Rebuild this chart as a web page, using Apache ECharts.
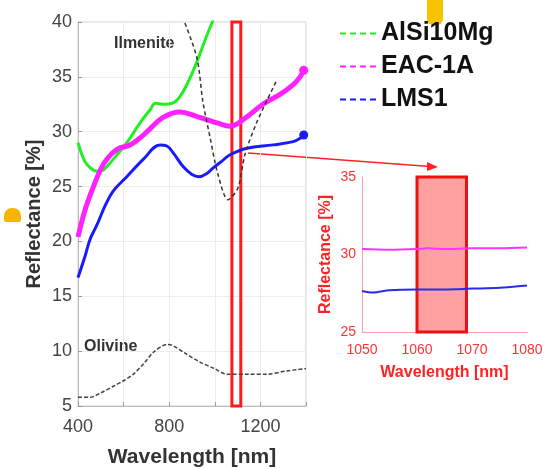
<!DOCTYPE html>
<html>
<head>
<meta charset="utf-8">
<script src="https://cdn.jsdelivr.net/npm/echarts@6/dist/echarts.min.js"></script>
<style>
  html, body { margin: 0; padding: 0; background: #fff; }
  #chart { width: 548px; height: 469px; }
</style>
</head>
<body>
<div id="chart"></div>
<script>
// main spectra, [wavelength nm, reflectance %]
const alsi10mg = [[400,29.0],[430,27.3],[460,26.6],[485,26.4],[510,26.5],[555,27.5],[614,29.0],[672,30.8],[716,32.0],[740,32.6],[780,32.5],[815,32.6],[847,33.2],[880,34.4],[922,36.4],[960,38.5],[995,40.3]];
const eac1a = [[400,20.4],[430,22.8],[466,24.9],[500,26.6],[527,27.5],[571,28.4],[628,28.8],[670,29.4],[703,30.0],[773,31.3],[847,31.8],[920,31.4],[965,31.1],[1010,30.8],[1067,30.5],[1124,31.1],[1211,32.5],[1286,33.4],[1344,34.3],[1374,35.0],[1390,35.6]];
const lms1 = [[400,16.7],[430,18.6],[453,20.2],[483,21.5],[520,23.3],[555,24.6],[614,25.9],[687,27.5],[760,28.8],[790,28.7],[820,28.0],[862,26.8],[900,26.1],[930,25.9],[965,26.2],[993,26.7],[1030,27.3],[1067,27.9],[1141,28.5],[1256,28.8],[1344,29.1],[1375,29.4],[1390,29.7]];
const ilmenite = [[869,39.9],[922,36.7],[948,32.7],[979,29.5],[1014,26.1],[1058,23.8],[1102,24.9],[1132,27.9],[1185,30.9],[1272,34.7]];
const olivine = [[400,5.8],[453,5.8],[500,6.2],[555,6.8],[600,7.3],[643,7.9],[690,8.9],[731,9.9],[790,10.6],[816,10.5],[870,9.8],[935,9.0],[1000,8.4],[1053,7.9],[1150,7.9],[1229,7.9],[1316,8.2],[1400,8.4]];

// zoomed window 1050-1080 nm
const eac1aZoom = [[1050,30.35],[1055,30.3],[1060,30.35],[1062,30.4],[1065,30.35],[1070,30.4],[1075,30.4],[1080,30.45]];
const lms1Zoom = [[1050,27.65],[1052,27.55],[1055,27.7],[1060,27.75],[1065,27.75],[1070,27.8],[1075,27.85],[1080,28.0]];

// highlighted bands
const bandMain = [1075, 1114];
const bandZoom = [1060, 1069];

const legendNames = ['AlSi10Mg', 'EAC-1A', 'LMS1'];
const font = 'Liberation Sans, Arial, sans-serif';
// four short dashes, used as legend sample
const dashIcon = 'path://M0,0H6V2H0Z M10,0H16V2H10Z M20,0H26V2H20Z M30,0H36V2H30Z';

// put a dot on the last point of a curve
function withEndDot(arr) {
    return arr.map((p, i) => i === arr.length - 1 ? { value: p, symbol: 'circle', symbolSize: 9 } : p);
}

const chart = echarts.init(document.getElementById('chart'));

const option = {
    animation: false,
    textStyle: { fontFamily: font },
    legend: {
        data: legendNames.map(n => ({ name: n, icon: dashIcon })),
        orient: 'vertical',
        left: 335,
        top: 16,
        itemWidth: 36,
        itemHeight: 2,
        itemGap: 8,
        textStyle: { fontSize: 25, fontWeight: 'bold', color: '#111', fontFamily: font }
    },
    grid: [
        { left: 78, top: 22, width: 228, height: 384, show: true, borderColor: '#cfcfcf', borderWidth: 1, outerBoundsMode: 'none' },
        { left: 362, top: 177, width: 165, height: 155, outerBoundsMode: 'none' }
    ],
    xAxis: [
        {
            gridIndex: 0, type: 'value', min: 400, max: 1400, interval: 200,
            name: 'Wavelength [nm]', nameLocation: 'middle', nameGap: 41,
            nameTextStyle: { fontSize: 21, fontWeight: 'bold', color: '#333' },
            axisLine: { lineStyle: { color: '#bbb' } },
            axisTick: { inside: true, length: 4, lineStyle: { color: '#999' } },
            axisLabel: { fontSize: 18, color: '#444', margin: 12, formatter: v => (v % 400 === 0 ? String(v) : '') },
            splitLine: { lineStyle: { color: '#ececec' } }
        },
        {
            gridIndex: 1, type: 'value', min: 1050, max: 1080, interval: 10,
            name: 'Wavelength [nm]', nameLocation: 'middle', nameGap: 33,
            nameTextStyle: { fontSize: 16, fontWeight: 'bold', color: '#f22' },
            axisLine: { lineStyle: { color: '#f9a0a0' } },
            axisTick: { show: false },
            axisLabel: { fontSize: 14, color: '#f33', margin: 11, formatter: v => String(v) },
            splitLine: { show: false }
        }
    ],
    yAxis: [
        {
            gridIndex: 0, type: 'value', min: 5, max: 40, interval: 5,
            name: 'Reflectance [%]', nameLocation: 'middle', nameGap: 34,
            nameTextStyle: { fontSize: 20, fontWeight: 'bold', color: '#333' },
            axisLine: { show: true, lineStyle: { color: '#bbb' } },
            axisTick: { show: true, inside: true, length: 4, lineStyle: { color: '#999' } },
            axisLabel: { fontSize: 18, color: '#444', margin: 6 },
            splitLine: { lineStyle: { color: '#ececec' } }
        },
        {
            gridIndex: 1, type: 'value', min: 25, max: 35, interval: 5,
            name: 'Reflectance [%]', nameLocation: 'middle', nameGap: 28,
            nameTextStyle: { fontSize: 16, fontWeight: 'bold', color: '#f22' },
            axisLine: { show: true, lineStyle: { color: '#f9a0a0' } },
            axisTick: { show: false },
            axisLabel: { fontSize: 14, color: '#f33', margin: 6 },
            splitLine: { show: false }
        }
    ],
    series: [
        {
            name: 'AlSi10Mg', type: 'line', xAxisIndex: 0, yAxisIndex: 0,
            data: alsi10mg, smooth: 0.4, symbol: 'none', color: '#22ee22',
            lineStyle: { width: 3 }
        },
        {
            name: 'LMS1', type: 'line', xAxisIndex: 0, yAxisIndex: 0,
            data: withEndDot(lms1), smooth: 0.4, symbol: 'none', color: '#1a1aff',
            lineStyle: { width: 3 }
        },
        {
            name: 'EAC-1A', type: 'line', xAxisIndex: 0, yAxisIndex: 0,
            data: withEndDot(eac1a), smooth: 0.4, symbol: 'none', color: '#ff22ff',
            lineStyle: { width: 5 }
        },
        {
            name: 'Ilmenite', type: 'line', xAxisIndex: 0, yAxisIndex: 0,
            data: ilmenite, smooth: 0.3, symbol: 'none', color: '#333',
            lineStyle: { width: 1.5, type: [4, 3] }
        },
        {
            name: 'Olivine', type: 'line', xAxisIndex: 0, yAxisIndex: 0,
            data: olivine, smooth: 0.3, symbol: 'none', color: '#444',
            lineStyle: { width: 1.5, type: [4, 2] },
            markArea: {
                silent: true,
                itemStyle: { color: 'rgba(255,255,255,0)', borderColor: '#ff1a1a', borderWidth: 3 },
                data: [[{ coord: [bandMain[0], 5] }, { coord: [bandMain[1], 40] }]]
            }
        },
        {
            name: 'EAC-1A zoom', type: 'line', xAxisIndex: 1, yAxisIndex: 1,
            data: eac1aZoom, smooth: 0.3, symbol: 'none', color: '#ff33ff',
            lineStyle: { width: 2 }
        },
        {
            name: 'LMS1 zoom', type: 'line', xAxisIndex: 1, yAxisIndex: 1,
            data: lms1Zoom, smooth: 0.3, symbol: 'none', color: '#2a2aee',
            lineStyle: { width: 2 },
            markArea: {
                silent: true,
                itemStyle: { color: 'rgba(255,0,0,0.37)', borderColor: '#ee1111', borderWidth: 3 },
                data: [[{ coord: [bandZoom[0], 25] }, { coord: [bandZoom[1], 35] }]]
            }
        }
    ],
    graphic: [
        // labels of the mineral curves
        { type: 'text', left: 114, top: 36, style: { text: 'Ilmenite', font: 'bold 16px ' + font, fill: '#333' } },
        { type: 'text', left: 84, top: 339, style: { text: 'Olivine', font: 'bold 16px ' + font, fill: '#333' } },
        // arrow from main band to zoom window
        { type: 'line', shape: { x1: 248, y1: 153, x2: 430, y2: 166.5 }, style: { stroke: '#ff2222', lineWidth: 1.5 } },
        { type: 'polygon', shape: { points: [[438, 167], [427, 162], [427, 171]] }, style: { fill: '#ff2222' } },
        // yellow marks on the scan
        { type: 'rect', shape: { x: 427, y: 0, width: 16, height: 25, r: [0, 0, 6, 6] }, style: { fill: '#f7c200' } },
        { type: 'rect', shape: { x: 4, y: 208, width: 17, height: 14, r: [8, 8, 2, 2] }, style: { fill: '#f7b500' } }
    ]
};

chart.setOption(option);
</script>
</body>
</html>
